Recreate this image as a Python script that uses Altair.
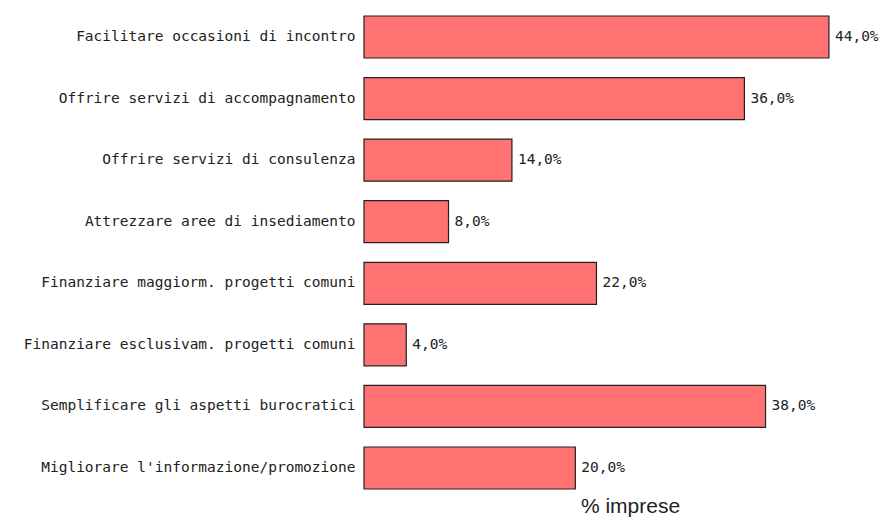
import altair as alt
import pandas as pd

categories = [
    "Facilitare occasioni di incontro",
    "Offrire servizi di accompagnamento",
    "Offrire servizi di consulenza",
    "Attrezzare aree di insediamento",
    "Finanziare  maggiorm. progetti comuni",
    "Finanziare esclusivam. progetti comuni",
    "Semplificare gli aspetti burocratici",
    "Migliorare l'informazione/promozione",
]
values = [44.0, 36.0, 14.0, 8.0, 22.0, 4.0, 38.0, 20.0]

df = pd.DataFrame({
    "cat": categories,
    "val": values,
    "lab": [f"{v:.1f}%".replace(".", ",") for v in values],
})

y = alt.Y("cat:N", sort=categories,
          scale=alt.Scale(paddingInner=0.318, paddingOuter=0.13),
          axis=alt.Axis(title=None, ticks=False, domain=False, labelPadding=9,
                        labelFont="DejaVu Sans Mono", labelFontSize=14.5,
                        labelColor="#222", labelLimit=400))
x = alt.X("val:Q", scale=alt.Scale(domain=[0, 49.4], nice=False),
          axis=alt.Axis(title="% imprese", labels=False, ticks=False, domain=False,
                        grid=False, titleFont="Liberation Sans", titleFontSize=21,
                        titleFontWeight="normal", titleColor="#222",
                        titleX=266, titleY=15, titleAlign="center",
                        titleBaseline="alphabetic"))

bars = alt.Chart(df).mark_bar(color="#FF7272", stroke="#222", strokeWidth=1.2).encode(x=x, y=y)
text = alt.Chart(df).mark_text(align="left", dx=6, font="DejaVu Sans Mono", fontSize=14.5,
                               color="#222").encode(
    x=alt.X("val:Q"), y=alt.Y("cat:N", sort=categories), text="lab:N")

chart = (bars + text).properties(
    width=522, height=489,
    autosize=alt.AutoSizeParams(type="none"),
    padding={"left": 356, "top": 0, "right": 0, "bottom": 21},
).configure_view(stroke=None)

chart.save("out.html", embed_options={"renderer": "svg", "actions": False})
